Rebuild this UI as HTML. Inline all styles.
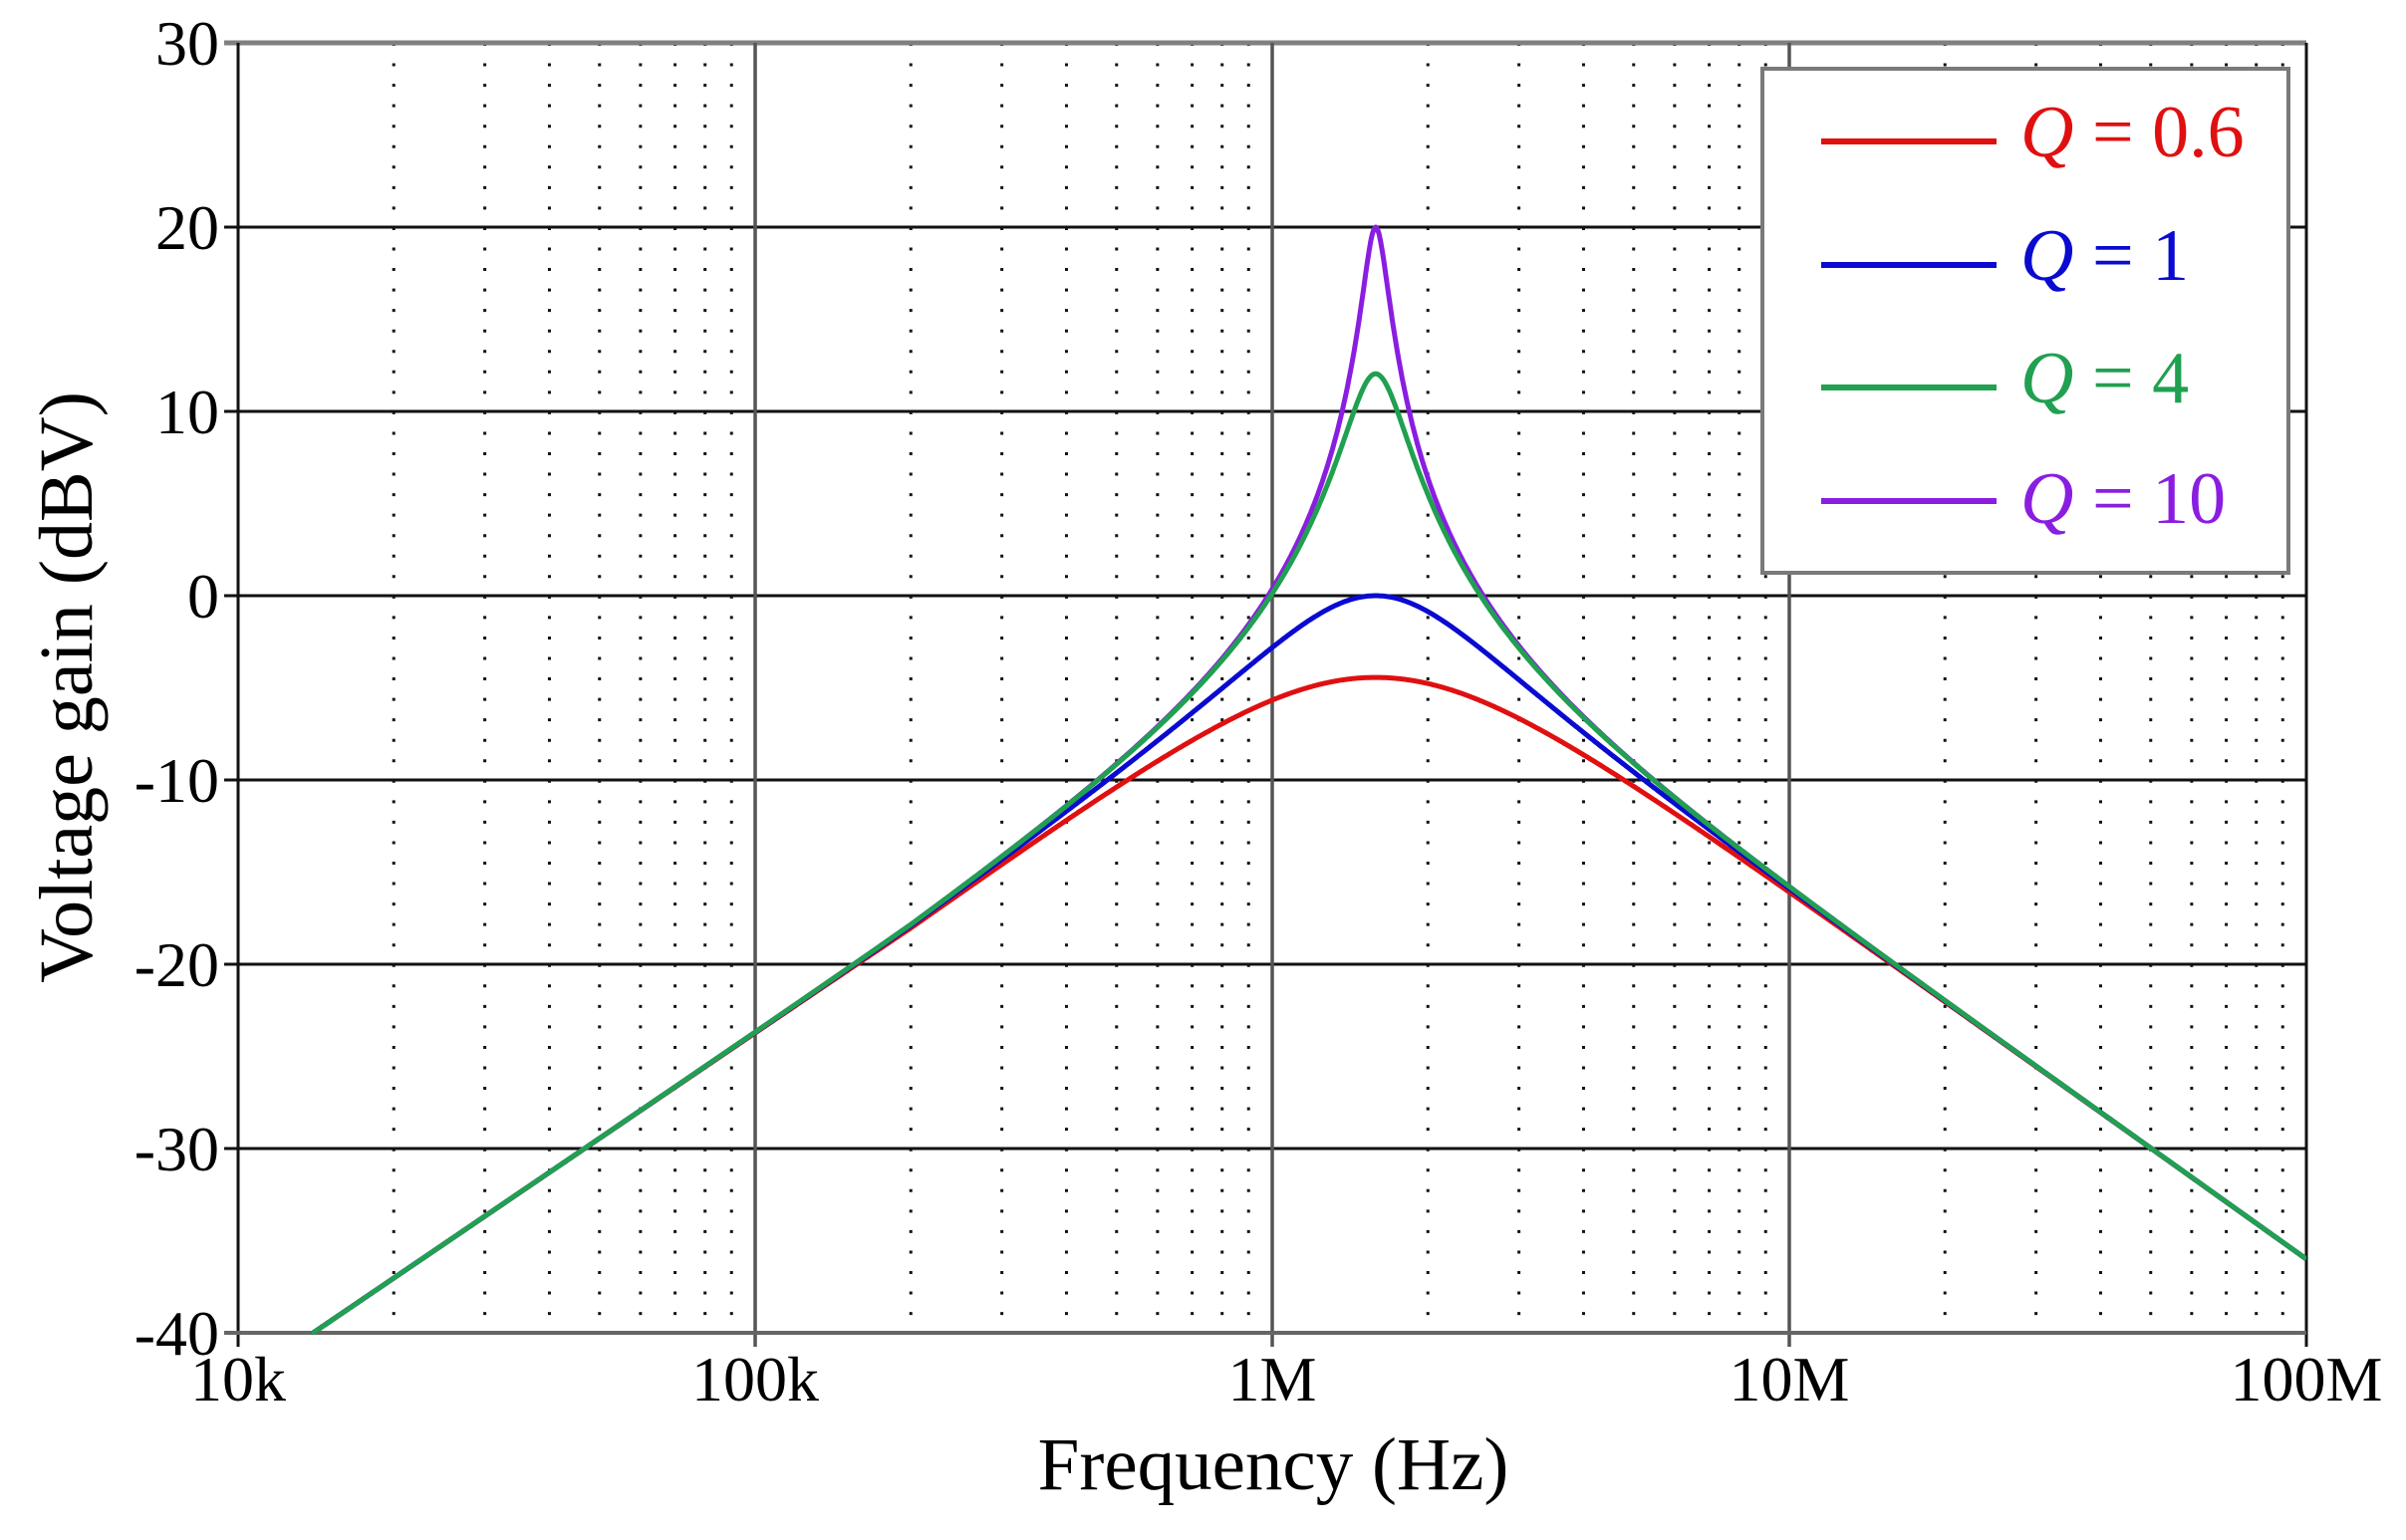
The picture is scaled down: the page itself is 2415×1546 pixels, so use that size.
<!DOCTYPE html>
<html><head><meta charset="utf-8">
<style>
html,body{margin:0;padding:0;background:#fff;}
svg{display:block;}
text{font-family:"Liberation Serif",serif;}
</style></head>
<body>
<svg id="s" width="2415" height="1546" viewBox="0 0 2415 1546" xmlns="http://www.w3.org/2000/svg">
<defs><clipPath id="cp"><rect x="239" y="43" width="2076" height="1297"/></clipPath></defs>
<g id="grid"></g>
<g id="curves" fill="none" stroke-width="5" stroke-linejoin="round" clip-path="url(#cp)"></g>
<g id="lab"></g>
<rect x="1769" y="69" width="528" height="506" fill="#fff" stroke="#7a7a7a" stroke-width="4"/>
<line x1="1828" y1="142" x2="2004" y2="142" stroke="#e01010" stroke-width="6"/>
<line x1="1828" y1="266" x2="2004" y2="266" stroke="#0a0ad0" stroke-width="6"/>
<line x1="1828" y1="389" x2="2004" y2="389" stroke="#20a050" stroke-width="6"/>
<line x1="1828" y1="503" x2="2004" y2="503" stroke="#8a1ee0" stroke-width="6"/>
<text x="2028" y="157" font-size="74" fill="#e01010"><tspan font-style="italic">Q</tspan> = 0.6</text>
<text x="2028" y="281" font-size="74" fill="#0a0ad0"><tspan font-style="italic">Q</tspan> = 1</text>
<text x="2028" y="404" font-size="74" fill="#20a050"><tspan font-style="italic">Q</tspan> = 4</text>
<text x="2028" y="525" font-size="74" fill="#8a1ee0"><tspan font-style="italic">Q</tspan> = 10</text>
</svg>
<script>
var NS="http://www.w3.org/2000/svg";
var X0=239,X1=2315,DEC=519,Y0=43,DB=18.5;
function fx(f){return X0+Math.log10(f/1e4)*DEC;}
function fy(d){return Y0+(30-d)*DB;}
function el(p,tag,a,txt){var e=document.createElementNS(NS,tag);for(var k in a)e.setAttribute(k,a[k]);if(txt!==undefined)e.textContent=txt;p.appendChild(e);return e;}
var g=document.getElementById('grid');
for(var d=0;d<4;d++){for(var m=2;m<=9;m++){var x=fx(1e4*Math.pow(10,d)*m);
el(g,'line',{x1:x,y1:Y0,x2:x,y2:fy(-40),stroke:'#111','stroke-width':3,'stroke-dasharray':'3 17.55'});}}
for(var v=-40;v<=20;v+=10){var y=fy(v);el(g,'line',{x1:225,y1:y,x2:X1,y2:y,stroke:'#111','stroke-width':3});}
el(g,'line',{x1:225,y1:Y0,x2:X1,y2:Y0,stroke:'#808080','stroke-width':5});
for(var d=1;d<4;d++){var x=fx(1e4*Math.pow(10,d));el(g,'line',{x1:x,y1:Y0,x2:x,y2:1352,stroke:'#555','stroke-width':3.5});}
el(g,'line',{x1:X0,y1:Y0,x2:X0,y2:1352,stroke:'#111','stroke-width':3});
el(g,'line',{x1:X1,y1:Y0,x2:X1,y2:1352,stroke:'#111','stroke-width':3});
el(g,'line',{x1:225,y1:fy(-40),x2:X1,y2:fy(-40),stroke:'#666','stroke-width':4});
var L=document.getElementById('lab');
for(var v=-40;v<=30;v+=10){el(L,'text',{x:220,y:fy(v)+22,'font-size':64,'text-anchor':'end'},String(v));}
var xl=['10k','100k','1M','10M','100M'];
for(var i=0;i<5;i++){el(L,'text',{x:X0+i*DEC,y:1406,'font-size':64,'text-anchor':'middle'},xl[i]);}
el(L,'text',{x:1278,y:1495,'font-size':75,'text-anchor':'middle'},'Frequency (Hz)');
el(L,'text',{x:0,y:0,'font-size':76,'text-anchor':'middle',transform:'translate(92,690) rotate(-90)'},'Voltage gain (dBV)');
var C=document.getElementById('curves');var f0=1.585e6;
var S=[[0.6,'#e01010'],[1,'#0a0ad0'],[10,'#8a1ee0'],[4,'#20a050']];
S.forEach(function(s){var Q=s[0],d='';var fs=13.9e3;
for(var i=0;i<=1200;i++){var lf=Math.log10(fs)+(Math.log10(1e8)-Math.log10(fs))*i/1200;var f=Math.pow(10,lf);var x=f/f0;
var re=1-x*x,im=x/Q;var mag=x/Math.sqrt(re*re+im*im);var db=20*Math.log10(mag);
if(f<2e5){db+= (1-Math.log10(f/1.39e4)/Math.log10(2e5/1.39e4))*1.1;}
d+=(i?'L':'M')+fx(f).toFixed(1)+' '+fy(db).toFixed(1);}
el(C,'path',{d:d,stroke:s[1]});});
</script>
</body></html>
